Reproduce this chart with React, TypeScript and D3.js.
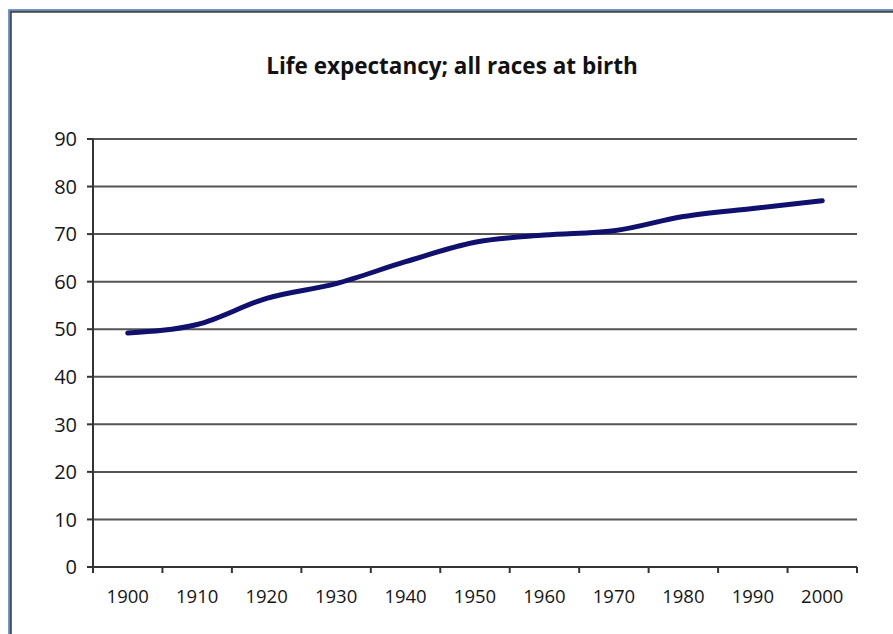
import React from "react";
import * as d3 from "d3";

const years = ["1900", "1910", "1920", "1930", "1940", "1950", "1960", "1970", "1980", "1990", "2000"];
const lifeExpectancy = [49.2, 51.0, 56.5, 59.6, 64.2, 68.3, 69.8, 70.7, 73.7, 75.4, 77.0];
const yTicks = [0, 10, 20, 30, 40, 50, 60, 70, 80, 90];
const title = "Life expectancy; all races at birth";

const W = 893;
const H = 634;
const left = 93;
const right = 857;
const top = 139;
const bottom = 567;
const font = "'Open Sans', 'Noto Sans', sans-serif";

export default function App() {
  const x = d3.scaleBand<string>().domain(years).range([left, right]).padding(0);
  const y = d3.scaleLinear().domain([0, 90]).range([bottom, top]);
  const line = d3
    .line<number>()
    .x((_, i) => (x(years[i]) as number) + x.bandwidth() / 2)
    .y((d) => y(d))
    .curve(d3.curveMonotoneX);
  const boundaries = years.map((yr) => x(yr) as number).concat([right]);

  return (
    <svg
      width={W}
      height={H}
      style={{ position: "absolute", left: 0, top: 0, background: "#fff" }}
    >
      <rect x={0} y={0} width={W} height={H} fill="#fff" />
      {/* frame */}
      <rect x={9} y={10} width={W + 20} height={H + 20} fill="none" stroke="#4f7fc6" strokeWidth={1.6} />
      <rect x={10.8} y={11.8} width={W + 20} height={H + 20} fill="none" stroke="#4a4a4a" strokeWidth={2} />

      <text
        x={452}
        y={74}
        textAnchor="middle"
        fontFamily={font}
        fontWeight="bold"
        fontSize={22.5}
        fill="#111"
      >
        {title}
      </text>

      {/* gridlines */}
      {yTicks.slice(1).map((t) => (
        <line key={"g" + t} x1={left} x2={right} y1={y(t)} y2={y(t)} stroke="#555" strokeWidth={2} />
      ))}
      {/* y ticks and labels */}
      {yTicks.map((t) => (
        <g key={"y" + t}>
          <line x1={left - 6} x2={left} y1={y(t)} y2={y(t)} stroke="#333" strokeWidth={2} />
          <text
            x={77}
            y={y(t)}
            dy="0.36em"
            textAnchor="end"
            fontFamily={font}
            fontSize={20}
            fill="#151515"
          >
            {t}
          </text>
        </g>
      ))}
      {/* axes */}
      <line x1={left} x2={left} y1={top} y2={bottom + 6} stroke="#333" strokeWidth={2} />
      <line x1={left - 6} x2={right} y1={bottom} y2={bottom} stroke="#333" strokeWidth={2} />
      {boundaries.map((b, i) => (
        <line key={"xt" + i} x1={b} x2={b} y1={bottom} y2={bottom + 6} stroke="#333" strokeWidth={2} />
      ))}
      {years.map((yr) => (
        <text
          key={"xl" + yr}
          x={(x(yr) as number) + x.bandwidth() / 2}
          y={603}
          textAnchor="middle"
          fontFamily={font}
          fontSize={18.5}
          fill="#151515"
        >
          {yr}
        </text>
      ))}

      <path
        d={line(lifeExpectancy) || ""}
        fill="none"
        stroke="#10106e"
        strokeWidth={5}
        strokeLinejoin="round"
        strokeLinecap="round"
      />
    </svg>
  );
}
